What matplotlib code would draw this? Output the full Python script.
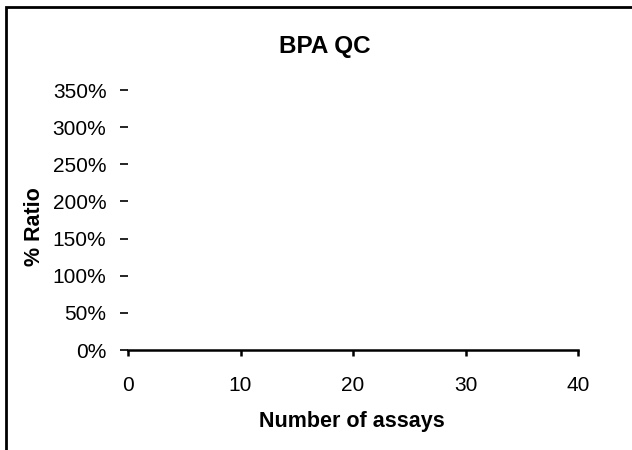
import matplotlib
matplotlib.use("Agg")
import matplotlib.pyplot as plt
from matplotlib.patches import Rectangle
from matplotlib.ticker import FuncFormatter

plt.rcParams['font.family'] = ['Liberation Sans', 'DejaVu Sans']

# Data (the chart has no plotted points)
assays = []
ratios = []
x_ticks = [0, 10, 20, 30, 40]
y_ticks = [0.0, 0.5, 1.0, 1.5, 2.0, 2.5, 3.0, 3.5]
title = "BPA QC"
xlabel = "Number of assays"
ylabel = "% Ratio"

W, H = 632, 450
fig = plt.figure(figsize=(W / 100, H / 100), dpi=100)

# outer chart frame (left and top visible)
fig.patches.append(Rectangle((6 / W, -0.1), 1.2, (H - 7) / H + 0.1, transform=fig.transFigure,
                             fill=False, edgecolor='black', linewidth=2.0))

left, right = 128 / W, 578 / W
bottom, top = 1 - 350 / H, 1 - 90 / H
ax = fig.add_axes([left, bottom, right - left, top - bottom])
ax.plot(assays, ratios, color='black')

ax.set_xlim(0, 40)
ax.set_ylim(0, 3.5)
ax.set_xticks(x_ticks)
ax.set_yticks(y_ticks)
ax.yaxis.set_major_formatter(FuncFormatter(lambda v, p: f"{v * 100:.0f}%"))

for s in ['top', 'right', 'left']:
    ax.spines[s].set_visible(False)
ax.spines['bottom'].set_linewidth(1.8)

ax.tick_params(axis='x', direction='out', length=4, width=1.8, pad=15, labelsize=15)
ax.tick_params(axis='y', direction='out', length=6, width=1.2, pad=9.5, labelsize=15)

fig.text(325 / W, 1 - 46 / H, title, ha='center', va='center', fontsize=17.5, fontweight='bold')
fig.text(352 / W, 1 - 421 / H, xlabel, ha='center', va='center', fontsize=15.5, fontweight='bold')
fig.text(34 / W, 1 - 227 / H, ylabel, ha='center', va='center', rotation=90,
         fontsize=15.5, fontweight='bold')

fig.savefig("out.png", dpi=100, facecolor='white')
